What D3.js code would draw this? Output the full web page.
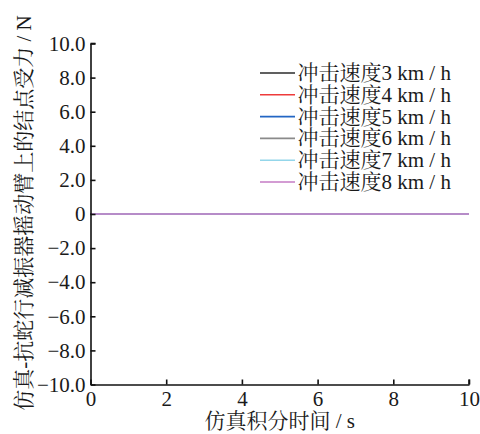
<!DOCTYPE html>
<html>
<head>
<meta charset="utf-8">
<script src="https://cdn.jsdelivr.net/npm/d3@7"></script>
<style>
  html, body { margin: 0; padding: 0; background: #fff; }
</style>
</head>
<body>
<svg id="chart" width="480" height="434"></svg>
<script>
// Impact speeds (km/h) and the matching node force series (N) over simulation time (s)
const seriesNames = ["冲击速度3 km / h", "冲击速度4 km / h", "冲击速度5 km / h",
                     "冲击速度6 km / h", "冲击速度7 km / h", "冲击速度8 km / h"];
const seriesColors = ["#2b2b2b", "#ee3b3b", "#2366c4", "#8a8a8a", "#93d6ea", "#c47bc4"];
const timeValues = [0, 10];
const force3 = [0, 0];
const force4 = [0, 0];
const force5 = [0, 0];
const force6 = [0, 0];
const force7 = [0, 0];
const force8 = [0, 0];
const xTicks = [0, 2, 4, 6, 8, 10];
const yTicks = [-10, -8, -6, -4, -2, 0, 2, 4, 6, 8, 10];

const allForces = [force3, force4, force5, force6, force7, force8];
const FONT = '"Liberation Serif", "Noto Serif CJK SC", serif';
const FS = 21;

const svg = d3.select("#chart");
const margin = { left: 90.5, right: 11, top: 43.5, bottom: 49.5 };
const W = 480, H = 434;

const x = d3.scaleLinear().domain([0, 10]).range([margin.left, W - margin.right]);
const y = d3.scaleLinear().domain([-10, 10]).range([H - margin.bottom, margin.top]);

// Series lines
const line = d3.line().x(d => x(d[0])).y(d => y(d[1]));
allForces.forEach((vals, i) => {
  svg.append("path")
    .datum(timeValues.map((t, k) => [t, vals[k]]))
    .attr("fill", "none")
    .attr("stroke", seriesColors[i])
    .attr("stroke-width", 1.6)
    .attr("d", line);
});

// Axes with inward ticks
const fmtY = v => v === 0 ? "0" : d3.format(".1f")(v).replace("-", "\u2212");
const yAxis = d3.axisLeft(y).tickValues(yTicks).tickFormat(fmtY).tickSizeInner(-5).tickSizeOuter(0).tickPadding(5);
const xAxis = d3.axisBottom(x).tickValues(xTicks).tickFormat(d3.format("d")).tickSizeInner(-5).tickSizeOuter(0).tickPadding(6.5);

const gy = svg.append("g").attr("transform", `translate(${margin.left},0)`).call(yAxis);
const gx = svg.append("g").attr("transform", `translate(0,${H - margin.bottom})`).call(xAxis);

[gx, gy].forEach(g => {
  g.select(".domain").attr("stroke", "#111").attr("stroke-width", 1.6);
  g.selectAll(".tick line").attr("stroke", "#111").attr("stroke-width", 1.6);
  g.selectAll(".tick text").attr("font-size", FS).style("font-family", FONT).attr("fill", "#1a1a1a");
});
// Close the top and right ends of the axes with a short inward stub
svg.append("line").attr("x1", x(0)).attr("x2", x(0) + 5).attr("y1", y(10)).attr("y2", y(10)).attr("stroke", "#111").attr("stroke-width", 1.6);
svg.append("line").attr("x1", x(10)).attr("x2", x(10)).attr("y1", y(-10)).attr("y2", y(-10) - 5).attr("stroke", "#111").attr("stroke-width", 1.6);

// Axis titles
svg.append("text")
  .attr("x", (x(0) + x(10)) / 2).attr("y", 428)
  .attr("text-anchor", "middle").attr("font-size", FS)
  .style("font-family", FONT).attr("fill", "#1a1a1a")
  .text("仿真积分时间 / s");

svg.append("text")
  .attr("transform", `translate(31,${(y(-10) + y(10)) / 2 - 1}) rotate(-90)`)
  .attr("text-anchor", "middle").attr("font-size", FS)
  .style("font-family", FONT).attr("fill", "#1a1a1a")
  .text("仿真-抗蛇行减振器摇动臂上的结点受力 / N");

// Legend
const legend = svg.append("g");
seriesNames.forEach((name, i) => {
  const cy = 73 + i * 21.8;
  legend.append("line")
    .attr("x1", 260).attr("x2", 295).attr("y1", cy).attr("y2", cy)
    .attr("stroke", seriesColors[i]).attr("stroke-width", 1.6);
  legend.append("text")
    .attr("x", 297.5).attr("y", cy + 7).attr("font-size", FS)
    .style("font-family", FONT).attr("fill", "#1a1a1a")
    .text(name);
});
</script>
</body>
</html>
